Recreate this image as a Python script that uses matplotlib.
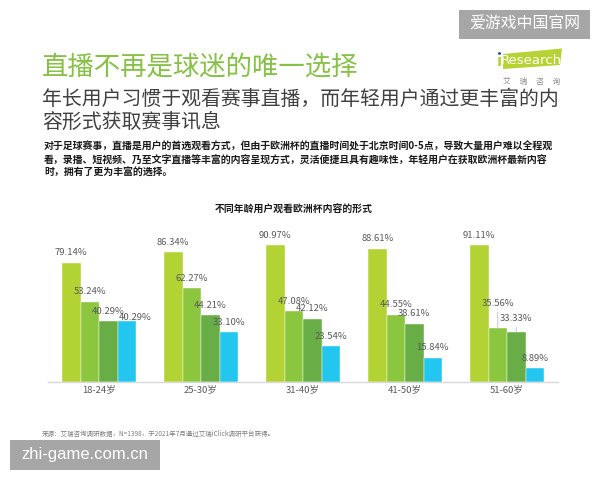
import matplotlib
matplotlib.use("Agg")
import matplotlib.pyplot as plt
from matplotlib.patches import Polygon, Rectangle
import numpy as np

plt.rcParams['font.family'] = ['Noto Sans CJK SC', 'DejaVu Sans']

categories = ['18-24岁', '25-30岁', '31-40岁', '41-50岁', '51-60岁']
series_1 = [79.14, 86.34, 90.97, 88.61, 91.11]
series_2 = [53.24, 62.27, 47.08, 44.55, 35.56]
series_3 = [40.29, 44.21, 42.12, 38.61, 33.33]
series_4 = [40.29, 33.10, 23.54, 15.84, 8.89]
series = [series_1, series_2, series_3, series_4]
colors = ['#b3d334', '#8cc63f', '#69ad47', '#22c6ef']

W, H = 600, 480
fig = plt.figure(figsize=(6, 4.8), dpi=100)
fig.patch.set_facecolor('white')

def fx(x):
    return x / W

def fy(y):
    return 1 - y / H

# Header texts
fig.text(fx(42), fy(67), '直播不再是球迷的唯一选择', fontsize=19, color='#86c047',
         ha='left', va='center')
fig.text(fx(42), fy(99.5), '年长用户习惯于观看赛事直播，而年轻用户通过更丰富的内',
         fontsize=14.3, color='#404040', ha='left', va='center')
fig.text(fx(42), fy(122), '容形式获取赛事讯息', fontsize=14.3, color='#404040',
         ha='left', va='center')
body = ['对于足球赛事，直播是用户的首选观看方式，但由于欧洲杯的直播时间处于北京时间0-5点，导致大量用户难以全程观',
        '看，录播、短视频、乃至文字直播等丰富的内容呈现方式，灵活便捷且具有趣味性，年轻用户在获取欧洲杯最新内容',
        '时，拥有了更为丰富的选择。']
for i, line in enumerate(body):
    fig.text(fx(44), fy([147, 160.5, 172.5][i]), line, fontsize=7.15, color='#1a1a1a',
             fontweight='bold', ha='left', va='center')

# Top-right watermark
fig.patches.append(Rectangle((fx(459), fy(39)), fx(131), 29 / H, transform=fig.transFigure,
                             facecolor='#a6a6a6', edgecolor='none'))
fig.text(fx(524.5), fy(24.5), '爱游戏中国官网', fontsize=11.4, color='white',
         ha='center', va='center')

# iResearch logo
logo = Polygon([(fx(503), fy(54)), (fx(562), fy(48.5)), (fx(560), fy(65)), (fx(503), fy(69))],
               closed=True, transform=fig.transFigure, facecolor='#b5d334', edgecolor='none')
fig.patches.append(logo)
fig.text(fx(499.5), fy(61.5), 'ı', fontsize=11, color='#b5d334', ha='center', va='center',
         family='DejaVu Sans', fontweight='bold')
fig.patches.append(plt.Circle((fx(499.5), fy(53.5)), 1.6 / W, transform=fig.transFigure,
                              facecolor='#1f4e79', edgecolor='none'))
fig.text(fx(531.5), fy(60.5), 'Research', fontsize=9.5, color='white', ha='center',
         va='center', family='DejaVu Sans')
fig.text(fx(532), fy(82), '艾     瑞     咨     询', fontsize=5.6, color='#8c8c8c',
         ha='center', va='center')

# Chart
ax = fig.add_axes([fx(48), (H - 381.7) / H, 510 / W, 150 / H])
n = len(categories)
x = np.arange(n)
bw = 18.5 / 102
offsets = (np.arange(4) - 1.5) * bw
for s, (vals, c) in enumerate(zip(series, colors)):
    ax.bar(x + offsets[s], vals, width=bw, color=c, edgecolor='white', linewidth=0.3,
           zorder=2)

ax.set_xlim(-0.5, n - 0.5)
ax.set_ylim(0, 100)
for sp in ['top', 'right', 'left']:
    ax.spines[sp].set_visible(False)
ax.spines['bottom'].set_color('#d9d9d9')
ax.spines['bottom'].set_linewidth(1.0)
ax.set_yticks([])
ax.set_xticks(x)
ax.set_xticklabels(categories, fontsize=6.8, color='#595959')
ax.tick_params(axis='x', length=0, pad=3)

# value labels
special = {(0, 3): (8, 4), (4, 1): (0, 25), (4, 2): (0, 13)}
for s, vals in enumerate(series):
    for g, v in enumerate(vals):
        dx, dy = special.get((g, s), (0, 10))
        kw = {}
        if (g, s) in [(4, 1), (4, 2)]:
            kw['arrowprops'] = dict(arrowstyle='-', color='#bfbfbf', lw=0.6,
                                    shrinkA=1, shrinkB=0)
        ax.annotate(f'{v:.2f}%', xy=(x[g] + offsets[s], v),
                    xytext=(dx * 0.72, dy * 0.72), textcoords='offset points',
                    ha='center', va='center', fontsize=6.8, color='#595959',
                    annotation_clip=False, **kw)

fig.text(fx(294), fy(210), '不同年龄用户观看欧洲杯内容的形式', fontsize=7.1,
         fontweight='bold', color='#1a1a1a', ha='center', va='center')

# footer
fig.text(fx(41.5), fy(433.5), '来源：艾瑞咨询调研数据，N=1398，于2021年7月通过艾瑞iClick调研平台获得。',
         fontsize=4.7, color='#7f7f7f', ha='left', va='center')

# bottom-left watermark
fig.patches.append(Rectangle((fx(10), fy(470)), fx(150), 30 / H, transform=fig.transFigure,
                             facecolor='#a6a6a6', edgecolor='none'))
fig.text(fx(85), fy(455), 'zhi-game.com.cn', fontsize=12, color='white',
         ha='center', va='center', family='Liberation Sans')

fig.savefig('out.png', dpi=100)
